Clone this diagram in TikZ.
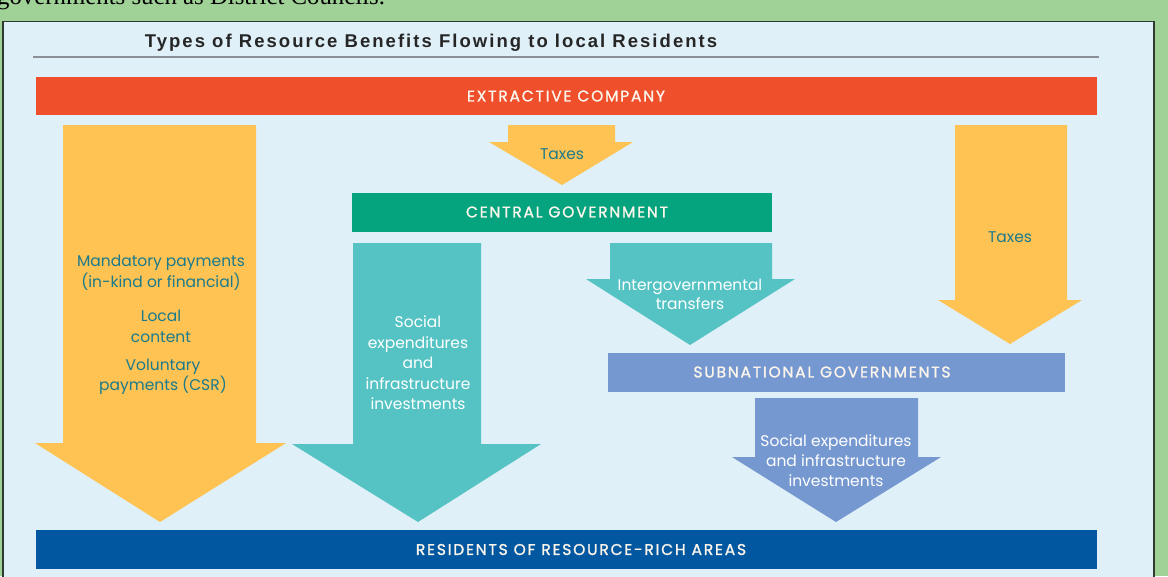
\documentclass[tikz,border=0pt]{standalone}
\usepackage{fontspec}
\setmainfont{Liberation Serif}
\newfontfamily\bodyfont{Poppins}
\newfontfamily\capsfont[LetterSpace=11.5, FakeBold=1.3]{Poppins}
\newfontfamily\titlefont[LetterSpace=11]{Liberation Sans}

\definecolor{pagegreen}{HTML}{A0D298}
\definecolor{panelblue}{HTML}{E0F0F8}
\definecolor{panelline}{HTML}{2E3A30}
\definecolor{rulegray}{HTML}{8A9096}
\definecolor{titleink}{HTML}{262626}
\definecolor{companyred}{HTML}{EF4F2B}
\definecolor{taxyellow}{HTML}{FEC352}
\definecolor{centralgreen}{HTML}{05A47E}
\definecolor{flowteal}{HTML}{55C3C4}
\definecolor{subblue}{HTML}{7698D0}
\definecolor{residentblue}{HTML}{0258A0}
\definecolor{inkteal}{HTML}{1B7A8C}
\definecolor{barink}{HTML}{FBF5EC}

\tikzset{
  bar/.style={draw=none, inner sep=0pt},
  bartext/.style={inner sep=0pt, text=barink,
    font=\capsfont\fontsize{15.5}{16}\selectfont},
  darklabel/.style={text=inkteal, align=center, inner sep=0pt,
    font=\bodyfont\fontsize{15.5}{21}\selectfont},
  lightlabel/.style={text=white, align=center, inner sep=0pt,
    font=\bodyfont\fontsize{15.5}{20.5}\selectfont},
}

\begin{document}
\begin{tikzpicture}[x=1pt, y=-1pt]
\useasboundingbox (0,0) rectangle (1168,576);
\fill[pagegreen] (0,0) rectangle (1168,576);

% running text of the page above the box, cut by the page edge
\begin{scope}
  \clip (0,0) rectangle (1168,576);
  \node[anchor=base west, inner sep=0pt, text=black,
        font=\fontsize{24.8}{25}\selectfont] (intro) at (-3,4)
        {governments such as District Councils.};
\end{scope}

% boxed figure
\draw[fill=panelblue, draw=panelline, line width=1.4pt] (3,21.5) rectangle (1154,600);

\node[anchor=base, inner sep=0pt, text=titleink,
      font=\titlefont\bfseries\fontsize{18.5}{19}\selectfont] (title) at (431,47.5)
      {Types of Resource Benefits Flowing to local Residents};
\coordinate (ruleL) at (33,57);
\coordinate (ruleR) at (1099,57);
\draw[rulegray, line width=2pt] (ruleL) -- (ruleR);

% horizontal bars
\node[bar, fill=companyred, minimum width=1061pt, minimum height=38pt] (company) at (566.5,96) {};
\node[bar, fill=centralgreen, minimum width=420pt, minimum height=39pt] (central) at (562,212) {};
\node[bar, fill=subblue, minimum width=457pt, minimum height=39pt] (subnat) at (836,372) {};
\node[bar, fill=residentblue, minimum width=1061pt, minimum height=39pt] (resid) at (566.5,549.5) {};

\node[bartext] (companyT) at (566,96) {EXTRACTIVE COMPANY};
\node[bartext] (centralT) at (567,212) {CENTRAL GOVERNMENT};
\node[bartext] (subnatT) at (822,372) {SUBNATIONAL GOVERNMENTS};
\node[bartext] (residT) at (581,549.5) {RESIDENTS OF RESOURCE-RICH AREAS};

% block arrows
\fill[taxyellow] (63,125) -- (256,125) -- (256,443) -- (286,443) -- (160,522) -- (35,443) -- (63,443) -- cycle;
\fill[taxyellow] (508,125) -- (615,125) -- (615,142) -- (633,142) -- (562,185) -- (489,142) -- (508,142) -- cycle;
\fill[taxyellow] (955,125) -- (1067,125) -- (1067,300) -- (1082,300) -- (1010,344) -- (938,300) -- (955,300) -- cycle;
\fill[flowteal] (353,243) -- (481,243) -- (481,444) -- (541,444) -- (418,522) -- (292,444) -- (353,444) -- cycle;
\fill[flowteal] (610,243) -- (772,243) -- (772,279) -- (795,279) -- (690,345) -- (586,279) -- (610,279) -- cycle;
\fill[subblue] (755,398) -- (918,398) -- (918,457) -- (941,457) -- (836,522) -- (732,457) -- (755,457) -- cycle;

% arrow labels
\node[darklabel] (mandatory) at (161,273) {Mandatory payments\\(in-kind or financial)};
\node[darklabel] (localc) at (161,326) {Local\\content};
\node[darklabel, font=\bodyfont\fontsize{15.5}{19.5}\selectfont] (voluntary) at (163,377) {Voluntary\\payments (CSR)};
\node[darklabel] (taxmid) at (562,154) {Taxes};
\node[darklabel] (taxright) at (1010,237) {Taxes};
\node[lightlabel] (socialA) at (418,363) {Social\\expenditures\\and\\infrastructure\\investments};
\node[lightlabel, font=\bodyfont\fontsize{15.5}{19}\selectfont] (transfers) at (690,294) {Intergovernmental\\transfers};
\node[lightlabel, font=\bodyfont\fontsize{15.5}{20}\selectfont] (socialB) at (836,461) {Social expenditures\\and infrastructure\\investments};
\end{tikzpicture}
\end{document}
